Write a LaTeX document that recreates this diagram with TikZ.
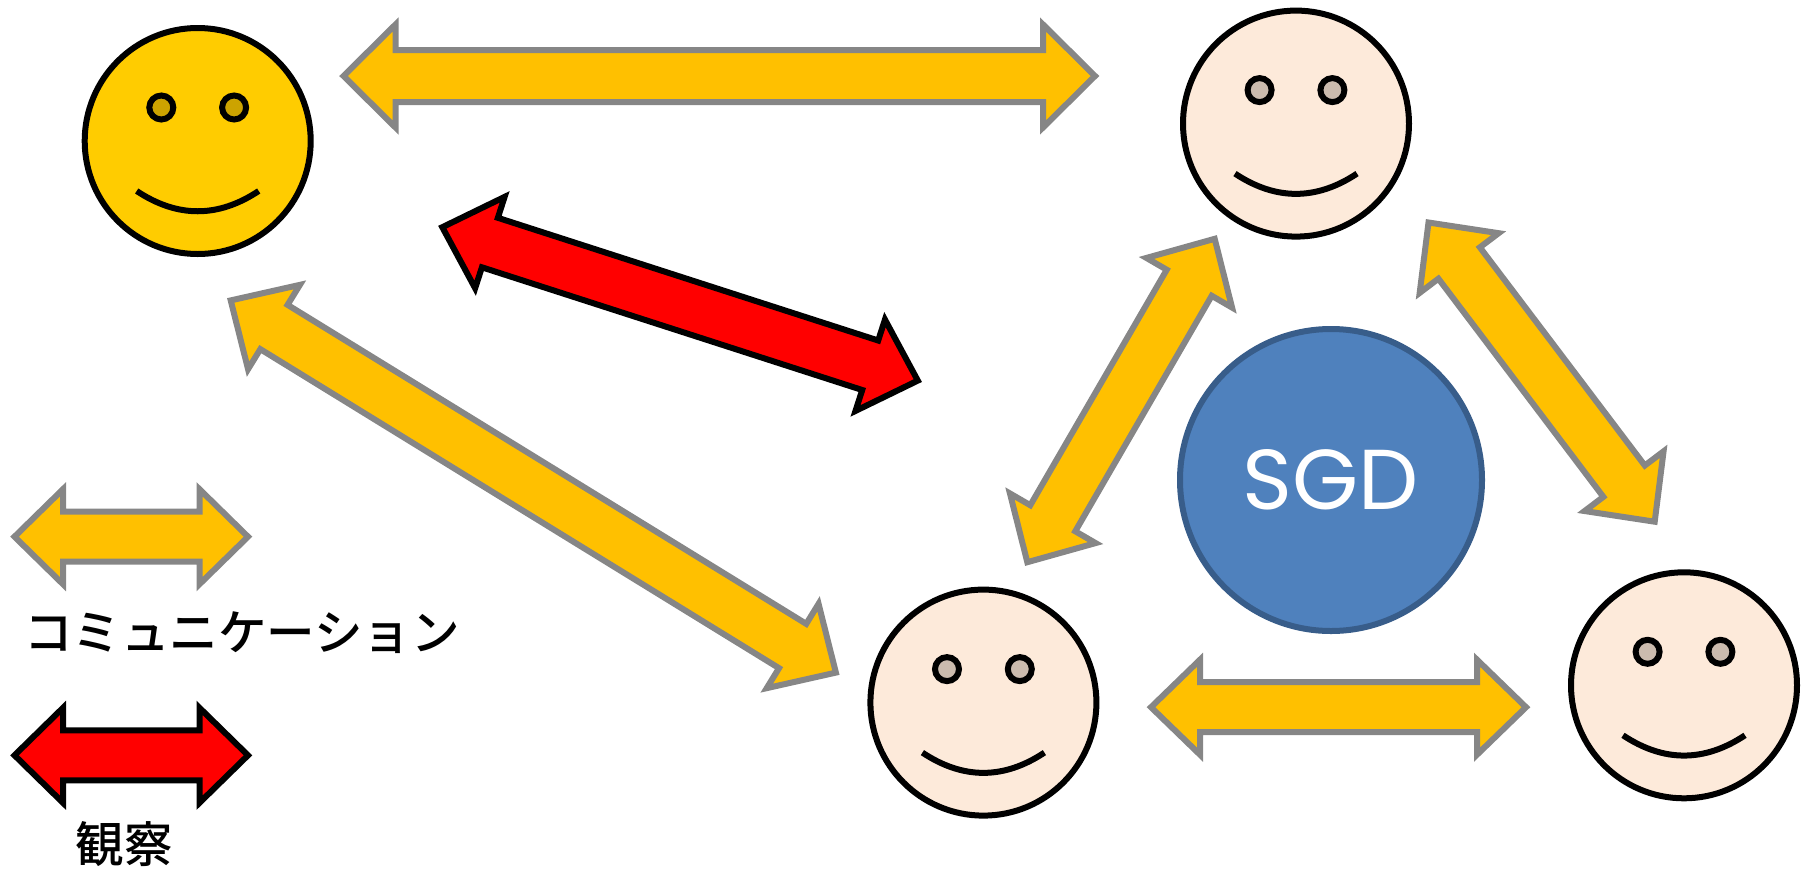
\documentclass[tikz,border=0pt]{standalone}
\usepackage{fontspec}
\setmainfont[UprightFont=* Medium]{Noto Sans CJK JP}
\newfontfamily\sgdfont{Poppins}
\usetikzlibrary{calc}
\definecolor{orangefill}{HTML}{FFC000}
\definecolor{grayline}{HTML}{868686}
\definecolor{redfill}{HTML}{FF0000}
\definecolor{peach}{HTML}{FDEADA}
\definecolor{peacheye}{HTML}{CBBBAE}
\definecolor{sunny}{HTML}{FFCC00}
\definecolor{sunnyeye}{HTML}{CCA300}
\definecolor{sgdfill}{HTML}{4F81BD}
\definecolor{sgdline}{HTML}{385D8A}
\tikzset{
  x=1pt,y=-1pt,
  talkarrow/.style={draw=grayline,fill=orangefill,line width=6pt,miter limit=10},
  watcharrow/.style={draw=black,fill=redfill,line width=6pt,miter limit=10},
  facedisc/.style={circle,draw=black,line width=6pt,minimum size=226pt,inner sep=0pt},
  eyedisc/.style={circle,draw=black,line width=6pt,minimum size=24pt,inner sep=0pt},
  mouthline/.style={draw=black,line width=6pt},
  legendtext/.style={font=\fontsize{48.5pt}{50pt}\selectfont,inner sep=0pt,anchor=center}
}
% #1 style, #2 tip a, #3 tip b, #4 head length, #5 head half width, #6 shaft half width
\newcommand{\blockarrow}[6]{%
  \path[#1]
    (#2)
    -- ($($(#2)!#4pt!(#3)$)!#5pt!90:(#3)$)
    -- ($($(#2)!#4pt!(#3)$)!#6pt!90:(#3)$)
    -- ($($(#3)!#4pt!(#2)$)!#6pt!-90:(#2)$)
    -- ($($(#3)!#4pt!(#2)$)!#5pt!-90:(#2)$)
    -- (#3)
    -- ($($(#3)!#4pt!(#2)$)!#5pt!90:(#2)$)
    -- ($($(#3)!#4pt!(#2)$)!#6pt!90:(#2)$)
    -- ($($(#2)!#4pt!(#3)$)!#6pt!-90:(#3)$)
    -- ($($(#2)!#4pt!(#3)$)!#5pt!-90:(#3)$)
    -- cycle;%
}
% #1 name, #2 x, #3 y, #4 fill, #5 eye fill
\newcommand{\smiley}[5]{%
  \node[facedisc,fill=#4] (#1) at (#2,#3) {};
  \node[eyedisc,fill=#5] (#1-eyeL) at ($(#1)+(-36.4,-33.5)$) {};
  \node[eyedisc,fill=#5] (#1-eyeR) at ($(#1)+(36.4,-33.5)$) {};
  \coordinate (#1-mL) at ($(#1)+(-61,50)$);
  \coordinate (#1-mR) at ($(#1)+(61,50)$);
  \draw[mouthline] (#1-mL) .. controls ($(#1)+(-20.3,77)$) and ($(#1)+(20.3,77)$) .. (#1-mR);%
}
\begin{document}
\begin{tikzpicture}
\useasboundingbox (0,0) rectangle (1812,871);
\smiley{me}{197.7}{141}{sunny}{sunnyeye}
\smiley{top}{1296}{123.6}{peach}{peacheye}
\smiley{low}{983.4}{702.6}{peach}{peacheye}
\smiley{right}{1684}{685.3}{peach}{peacheye}
\node[circle,draw=sgdline,fill=sgdfill,line width=6pt,minimum size=302pt,inner sep=0pt,text=white,font=\sgdfont\fontsize{85pt}{85pt}\selectfont] (sgd) at (1331,480) {SGD};
\coordinate (a1) at (343.5,76); \coordinate (a2) at (1095,76);
\coordinate (b1) at (230.7,300.4); \coordinate (b2) at (835.9,672.6);
\coordinate (c1) at (1214.7,238.8); \coordinate (c2) at (1027.3,562.2);
\coordinate (d1) at (1428.5,222.5); \coordinate (d2) at (1654.7,521.7);
\coordinate (e1) at (1151,707.2); \coordinate (e2) at (1526,707.2);
\coordinate (r1) at (442.3,227.2); \coordinate (r2) at (917.8,380.6);
\coordinate (lt1) at (14.5,536.7); \coordinate (lt2) at (248,536.7);
\coordinate (lr1) at (14.5,755.3); \coordinate (lr2) at (248,755.3);
\blockarrow{talkarrow}{a1}{a2}{52}{51.5}{26}
\blockarrow{talkarrow}{b1}{b2}{50.8}{49.5}{26}
\blockarrow{talkarrow}{c1}{c2}{50.8}{49.5}{26}
\blockarrow{talkarrow}{d1}{d2}{50.8}{49.5}{26}
\blockarrow{talkarrow}{e1}{e2}{49}{47.5}{25}
\blockarrow{watcharrow}{r1}{r2}{50}{48}{26}
\blockarrow{talkarrow}{lt1}{lt2}{48.5}{47.5}{25}
\blockarrow{watcharrow}{lr1}{lr2}{48.5}{47.5}{25}
\node[legendtext] (talk) at (242,633) {コミュニケーション};
\node[legendtext] (watch) at (124,844) {観察};
\end{tikzpicture}
\end{document}
